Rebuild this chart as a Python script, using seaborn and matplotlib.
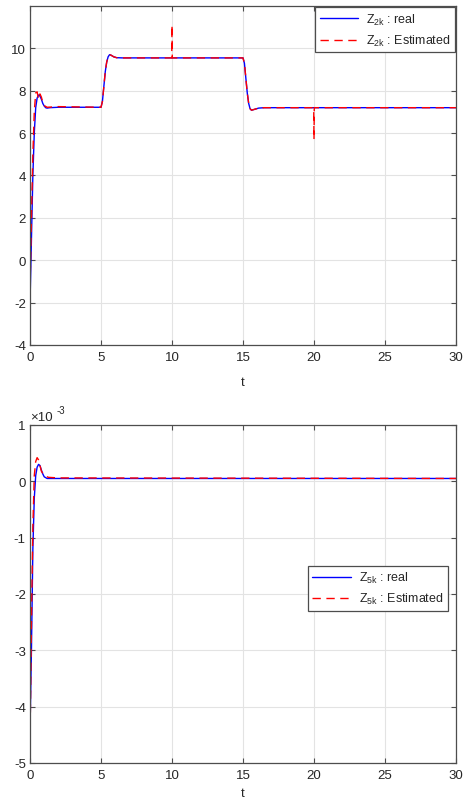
import numpy as np
import pandas as pd
import matplotlib
matplotlib.use("Agg")
import matplotlib.pyplot as plt
import seaborn as sns
from matplotlib.ticker import FuncFormatter

# ---------------- data ----------------
t_z2_real = [0, 0.1, 0.2, 0.3, 0.4, 0.5, 0.6, 0.7, 0.8, 0.9, 1.0, 1.1, 1.2, 1.4, 2.0,
             5.0, 5.1, 5.2, 5.3, 5.4, 5.5, 5.6, 5.7, 5.9, 6.1, 6.5,
             15.0, 15.1, 15.2, 15.3, 15.4, 15.5, 15.6, 15.8, 16.1, 16.5, 30.0]
z2_real = [-2.0, 1.0, 4.0, 6.0, 7.2, 7.65, 7.8, 7.75, 7.6, 7.4, 7.28, 7.2, 7.18, 7.2, 7.22,
           7.22, 7.5, 8.2, 8.9, 9.35, 9.6, 9.7, 9.68, 9.6, 9.56, 9.55,
           9.55, 9.3, 8.6, 7.9, 7.4, 7.15, 7.08, 7.12, 7.18, 7.2, 7.2]

t_z2_est = [0, 0.1, 0.2, 0.3, 0.4, 0.5, 0.6, 0.7, 0.8, 0.9, 1.0, 1.2, 2.0,
            5.0, 5.1, 5.2, 5.3, 5.4, 5.5, 5.6, 5.7, 5.9, 6.1, 6.5,
            9.98, 10.0, 10.02,
            15.0, 15.1, 15.2, 15.3, 15.4, 15.5, 15.6, 15.8, 16.1, 16.5,
            19.98, 20.0, 20.02, 30.0]
z2_est = [-1.3, 2.0, 5.0, 7.0, 7.9, 7.95, 7.6, 7.85, 7.7, 7.45, 7.3, 7.22, 7.25,
          7.22, 7.5, 8.2, 8.9, 9.35, 9.6, 9.7, 9.68, 9.6, 9.56, 9.55,
          9.55, 11.1, 9.55,
          9.55, 9.3, 8.6, 7.9, 7.4, 7.15, 7.08, 7.12, 7.18, 7.2,
          7.2, 5.7, 7.2, 7.2]

t_z5_real = [0, 0.1, 0.2, 0.3, 0.4, 0.5, 0.6, 0.7, 0.8, 0.9, 1.0, 1.2, 1.5, 30.0]
z5_real = [-4.4e-3, -3.0e-3, -1.2e-3, -0.3e-3, 0.1e-3, 0.25e-3, 0.3e-3, 0.28e-3,
           0.2e-3, 0.13e-3, 0.08e-3, 0.05e-3, 0.05e-3, 0.05e-3]

t_z5_est = [0, 0.1, 0.2, 0.3, 0.4, 0.5, 0.6, 0.7, 0.8, 1.0, 1.3, 2.0, 30.0]
z5_est = [-4.6e-3, -2.5e-3, -0.8e-3, 0.1e-3, 0.35e-3, 0.42e-3, 0.38e-3, 0.28e-3,
          0.18e-3, 0.1e-3, 0.07e-3, 0.06e-3, 0.05e-3]

x_ticks = [0, 5, 10, 15, 20, 25, 30]
y_ticks_top = [-4, -2, 0, 2, 4, 6, 8, 10]
y_ticks_bot = [-5e-3, -4e-3, -3e-3, -2e-3, -1e-3, 0, 1e-3]

# ---------------- style ----------------
sns.set_style("white")
plt.rcParams["font.family"] = ["Liberation Sans", "DejaVu Sans"]
plt.rcParams["axes.unicode_minus"] = False
plt.rcParams["mathtext.fontset"] = "custom"
plt.rcParams["mathtext.rm"] = "Liberation Sans"
plt.rcParams["mathtext.it"] = "Liberation Sans"

fig = plt.figure(figsize=(4.64, 8.04), dpi=100)
ax1 = fig.add_axes([0.0647, 0.5697, 0.918, 0.4216])
ax2 = fig.add_axes([0.0647, 0.0498, 0.918, 0.4204])

spine_col = "#4d4d4d"
grid_col = "#e3e3e3"
txt_col = "#262626"
dash = (0, (6, 4))
tick_fs = 9.5


def style_axes(ax, xlabelpad):
    ax.grid(True, color=grid_col, linewidth=0.8)
    ax.set_axisbelow(True)
    for s in ax.spines.values():
        s.set_visible(True)
        s.set_color(spine_col)
        s.set_linewidth(0.9)
    ax.tick_params(direction="in", length=3.5, width=0.8, colors=spine_col,
                   labelcolor=txt_col, labelsize=tick_fs, pad=3,
                   top=True, right=True, bottom=True, left=True)
    ax.tick_params(axis="x", pad=4.5)
    ax.set_xlim(0, 30)
    ax.set_xticks(x_ticks)
    ax.set_xlabel("t", fontsize=tick_fs, color=txt_col, labelpad=xlabelpad)
    ax.set_ylabel("")


# top
df1r = pd.DataFrame({"t": t_z2_real, "v": z2_real})
df1e = pd.DataFrame({"t": t_z2_est, "v": z2_est})
sns.lineplot(data=df1r, x="t", y="v", ax=ax1, color="#0000ff", linewidth=1.0,
             label=r"Z$_{\mathregular{2k}}$ : real", sort=False)
sns.lineplot(data=df1e, x="t", y="v", ax=ax1, color="#ff0000", linewidth=1.0,
             linestyle=dash, label=r"Z$_{\mathregular{2k}}$ : Estimated", sort=False)
style_axes(ax1, 9)
ax1.set_ylim(-4, 12)
ax1.set_yticks(y_ticks_top)
leg1 = ax1.legend(loc="upper right", fontsize=9, handlelength=3.1, frameon=True,
                  fancybox=False, edgecolor=spine_col, borderaxespad=0.1,
                  framealpha=1, labelspacing=0.5, borderpad=0.35,
                  handletextpad=0.6)
leg1.get_frame().set_linewidth(0.9)

# bottom
df2r = pd.DataFrame({"t": t_z5_real, "v": z5_real})
df2e = pd.DataFrame({"t": t_z5_est, "v": z5_est})
sns.lineplot(data=df2r, x="t", y="v", ax=ax2, color="#0000ff", linewidth=1.0,
             label=r"Z$_{\mathregular{5k}}$ : real", sort=False)
sns.lineplot(data=df2e, x="t", y="v", ax=ax2, color="#ff0000", linewidth=1.0,
             linestyle=dash, label=r"Z$_{\mathregular{5k}}$ : Estimated", sort=False)
style_axes(ax2, 4)
ax2.set_ylim(-5e-3, 1e-3)
ax2.set_yticks(y_ticks_bot)
ax2.yaxis.set_major_formatter(FuncFormatter(lambda v, p: "%g" % round(v * 1e3, 6)))
ax2.text(0.0, 1.006, "\u00d710", transform=ax2.transAxes, fontsize=tick_fs,
         color=txt_col, ha="left", va="bottom")
ax2.text(0.062, 1.028, "-3", transform=ax2.transAxes, fontsize=7,
         color=txt_col, ha="left", va="bottom")
leg2 = ax2.legend(loc="center right", bbox_to_anchor=(0.995, 0.517), fontsize=9,
                  handlelength=3.1, frameon=True, fancybox=False,
                  edgecolor=spine_col, framealpha=1, labelspacing=0.5,
                  borderpad=0.35, handletextpad=0.6)
leg2.get_frame().set_linewidth(0.9)

fig.savefig("out.png", dpi=100)
